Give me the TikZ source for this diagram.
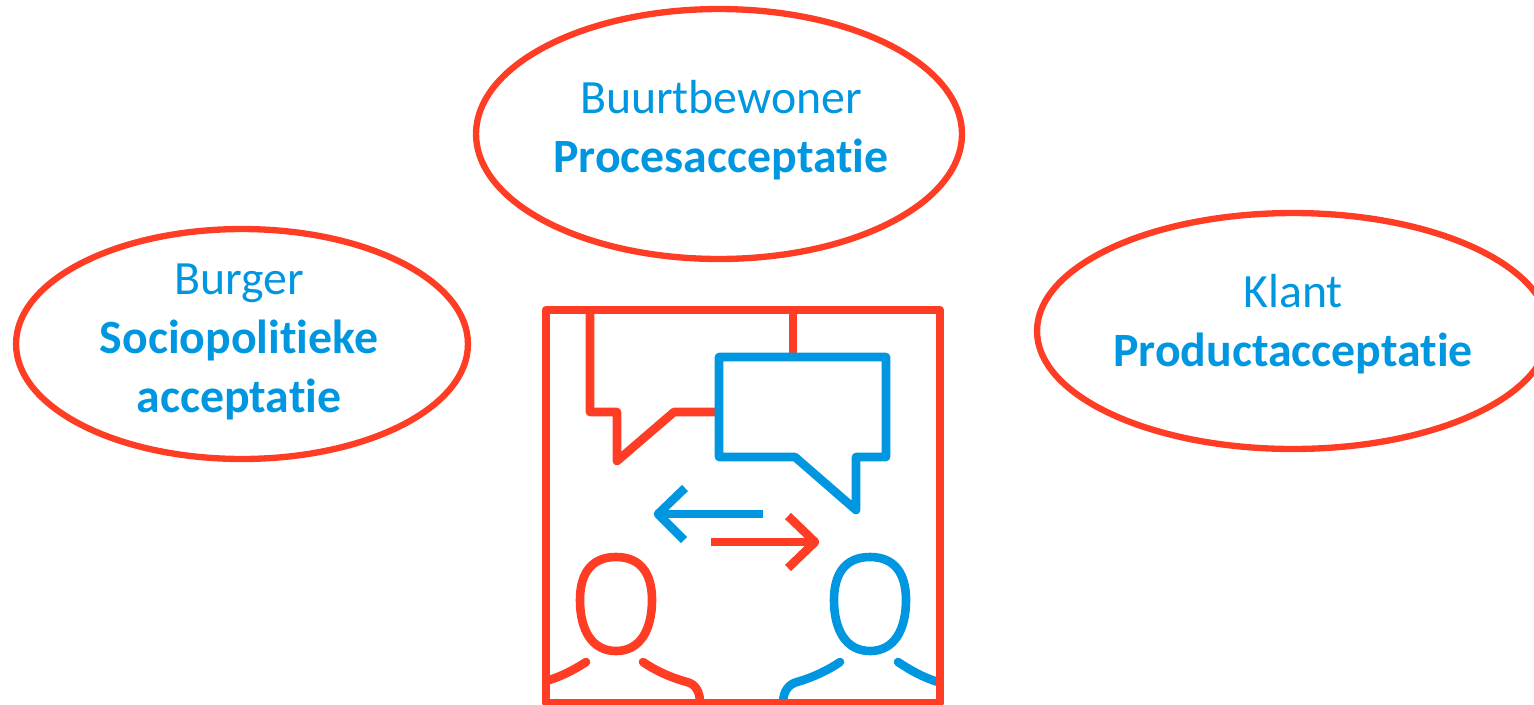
\documentclass[tikz,border=0pt]{standalone}
\usepackage{fontspec}
\setmainfont[Ligatures=NoCommon]{Carlito}
\usetikzlibrary{shapes.geometric}
\definecolor{rood}{HTML}{FF3D24}
\definecolor{blauw}{HTML}{0097E0}
\tikzset{
	bubble/.style={draw=rood,ellipse,line width=3.6pt,inner sep=0pt,outer sep=0pt},
	tekst/.style={text=blauw,align=center,font=\fontsize{27.2}{33.5}\selectfont,inner sep=0pt},
	icon/.style={line width=4.9pt,line join=round,line cap=round},
}
\begin{document}
\begin{tikzpicture}[x=0.02cm,y=-0.02cm]
	\useasboundingbox (0,0) rectangle (1534,704);
	\node [bubble,minimum width=9.72cm,minimum height=5cm] (buurt) at (719,134) {};
	\node [bubble,minimum width=9.04cm,minimum height=4.6cm] (burger) at (242,344) {};
	\node [bubble,minimum width=10.24cm,minimum height=4.72cm] (klant) at (1293,331) {};
	\node [tekst] (buurttekst) at (721,130) {Buurtbewoner\\\textbf{Procesacceptatie}};
	\node [tekst] (burgertekst) at (239,342) {Burger\\\textbf{Sociopolitieke}\\\textbf{acceptatie}};
	\node [tekst] (klanttekst) at (1293,324) {Klant\\\textbf{Productacceptatie}};
	% persons
	\foreach \px/\kleur in {616/rood,870/blauw}{
		\draw [icon,\kleur] (\px,557) .. controls (\px+25,557) and (\px+36,574) .. (\px+36,600)
			.. controls (\px+36,630) and (\px+24,651) .. (\px,651)
			.. controls (\px-24,651) and (\px-36,630) .. (\px-36,600)
			.. controls (\px-36,574) and (\px-25,557) .. (\px,557) -- cycle;
	}
	\draw [icon,rood,line cap=round] (586,662) .. controls (574,670) and (560,677) .. (546,681);
	\draw [icon,rood] (643,662) .. controls (656,671) and (672,678) .. (687,682)
		.. controls (695,684) and (700,691) .. (700,703);
	\draw [icon,blauw] (840,662) .. controls (827,671) and (811,678) .. (797,682)
		.. controls (789,684) and (783,691) .. (783,703);
	\draw [icon,blauw] (898,662) .. controls (910,670) and (922,677) .. (938,682);
	% frame
	\draw [icon,rood,line cap=butt] (546,310) -- (940,310) -- (940,703) -- (546,703) -- cycle;
	% red speech bubble
	\draw [icon,rood,line cap=butt] (590,310) -- (590,412) -- (617,412) -- (617,461) -- (674,412) -- (719,412);
	\draw [icon,rood,line cap=butt] (793,310) -- (793,357);
	% blue speech bubble
	\draw [icon,blauw] (719,357) -- (886,357) -- (886,457) -- (856,457) -- (856,510) -- (795,457) -- (719,457) -- cycle;
	% arrows
	\draw [icon,blauw,line cap=butt] (763,514) -- (658,514);
	\draw [icon,blauw,line cap=butt] (685,488) -- (658,514) -- (684,540);
	\draw [icon,rood,line cap=butt] (711,542) -- (815,542);
	\draw [icon,rood,line cap=butt] (788,516) -- (815,542) -- (788,568);
\end{tikzpicture}
\end{document}
